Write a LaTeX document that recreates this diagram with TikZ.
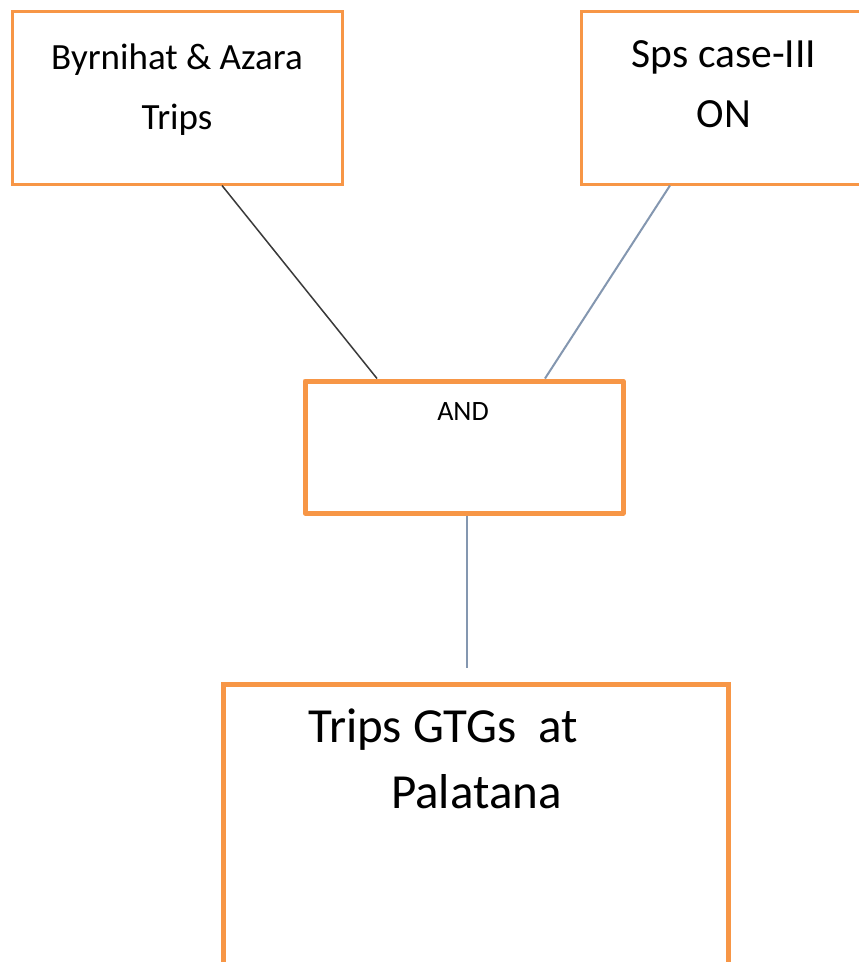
\documentclass[tikz,border=0pt]{standalone}
\usepackage{fontspec}
\setmainfont{Carlito}
\definecolor{boxorange}{HTML}{F79646}
\definecolor{linkblue}{HTML}{8497B0}
\definecolor{linkdark}{HTML}{3A3A3A}
\tikzset{
  box/.style={draw=boxorange,line width=3pt,inner sep=0pt},
  gate/.style={box,line width=5pt,line join=round},
  txt/.style={inner sep=0pt,align=center},
}
\begin{document}
\begin{tikzpicture}[x=1pt,y=-1pt]
  \useasboundingbox (0,0) rectangle (859,962);
  \clip (0,0) rectangle (859,962);
  \fill[white] (0,0) rectangle (859,962);
  \node[box,minimum width=330pt,minimum height=173pt] (byrn) at (177,97.5) {};
  \node[box,minimum width=299pt,minimum height=173pt] (sps) at (730.5,97.5) {};
  \node[gate,minimum width=318pt,minimum height=132pt] (and) at (464,447) {};
  \node[box,line width=5pt,minimum width=505pt,minimum height=316pt] (gtg) at (475.5,842) {};
  \node[txt,font=\fontsize{37}{60}\selectfont] (byrntxt) at (177,90) {Byrnihat \& Azara\\Trips};
  \node[txt,font=\fontsize{41.5}{60}\selectfont] (spstxt) at (724,84) {Sps case-III\\ON};
  \node[txt,font=\fontsize{28}{32}\selectfont] (andtxt) at (463,411.5) {AND};
  \node[txt,align=left,anchor=north west,font=\fontsize{49}{66}\selectfont] (gtgtxt) at (308,709) {Trips GTGs\ \ at\\\hspace*{83pt}Palatana};
  \coordinate (gtgin) at (467,668);
  \draw[linkdark,line width=1.5pt] ([xshift=45]byrn.south) -- ([xshift=-87]and.north);
  \draw[linkblue,line width=2pt] ([xshift=-60.5]sps.south) -- ([xshift=81]and.north);
  \draw[linkblue,line width=2pt] ([xshift=3]and.south) -- (gtgin);
\end{tikzpicture}
\end{document}
